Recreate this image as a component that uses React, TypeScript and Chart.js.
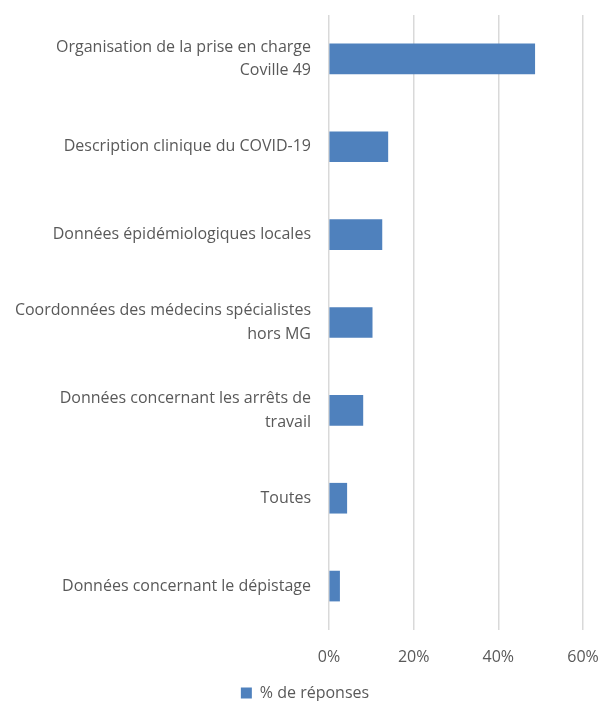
import React, { useEffect, useRef } from "react";
import { Chart, registerables } from "chart.js";

Chart.register(...registerables);

const categories: string[][] = [
  ["Organisation de la prise en charge", "Coville 49"],
  ["Description clinique du COVID-19"],
  ["Données épidémiologiques locales"],
  ["Coordonnées des médecins spécialistes", "hors MG"],
  ["Données concernant les arrêts de", "travail"],
  ["Toutes"],
  ["Données concernant le dépistage"],
];
const values: number[] = [48.6, 13.9, 12.5, 10.2, 8.0, 4.2, 2.5];
const seriesName = "% de réponses";
const xTicks: number[] = [0, 20, 40, 60];

export default function App() {
  const ref = useRef<HTMLCanvasElement | null>(null);
  useEffect(() => {
    document.body.style.margin = "0";
    const ctx = ref.current!;
    const font = "'Open Sans', sans-serif";
    const chart = new Chart(ctx, {
      type: "bar",
      data: {
        labels: categories as any,
        datasets: [
          {
            label: seriesName,
            data: values,
            backgroundColor: "#4f81bd",
            barThickness: 30,
          },
        ],
      },
      options: {
        indexAxis: "y",
        animation: false,
        responsive: false,
        maintainAspectRatio: false,
        layout: { padding: { top: 15, right: 0, left: 10, bottom: -10 } },
        scales: {
          x: {
            min: 0,
            max: 60,
            afterBuildTicks: (axis: any) => {
              axis.ticks = xTicks.map((v) => ({ value: v }));
            },
            ticks: {
              callback: (v: any) => v + "%",
              color: "#595959",
              font: { family: font, size: 16 },
              padding: 18,
            },
            grid: { color: "#d9d9d9", lineWidth: 1.5, drawTicks: false },
            border: { display: false },
            afterFit: (axis: any) => {
              axis.height = 55;
              axis.paddingLeft = 0;
              axis.paddingRight = 17;
            },
          },
          y: {
            ticks: {
              color: "#595959",
              font: { family: font, size: 16, lineHeight: 1.45 },
              padding: 18,
            },
            grid: { display: false, drawTicks: false },
            border: { display: false },
            afterFit: (axis: any) => {
              axis.width = 319;
              axis.paddingTop = 0;
              axis.paddingBottom = 0;
            },
          },
        },
        plugins: {
          legend: {
            position: "bottom",
            labels: {
              boxWidth: 11,
              boxHeight: 11,
              color: "#595959",
              font: { family: font, size: 16 },
              padding: 0,
            },
          },
          tooltip: { enabled: false },
        },
      },
    });
    return () => chart.destroy();
  }, []);
  return <canvas ref={ref} width={600} height={701} style={{ display: "block" }} />;
}
